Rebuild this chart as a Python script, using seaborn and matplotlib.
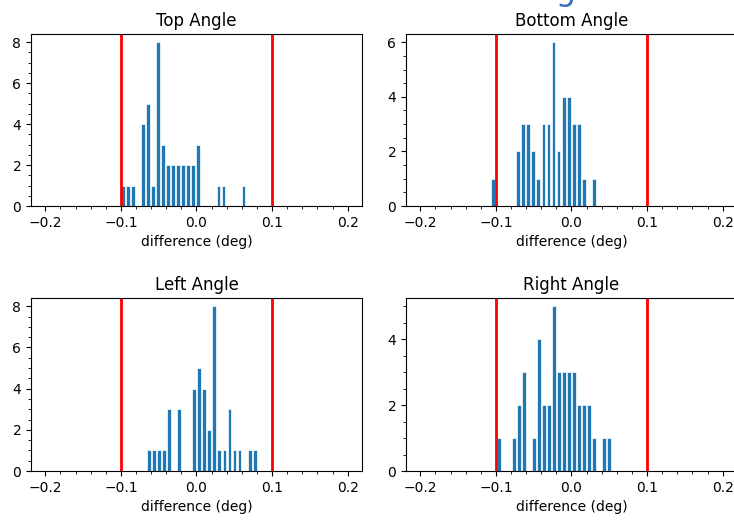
import numpy as np
import pandas as pd
import matplotlib
matplotlib.use("Agg")
import matplotlib.pyplot as plt
from matplotlib.ticker import MultipleLocator
import seaborn as sns

# Histogram counts (42 samples per corner), with the
# data range each histogram was binned over
top_counts = [1, 1, 1, 0, 4, 5, 1, 8, 3, 2, 2, 2, 2, 2, 2, 3, 0, 0, 0, 1, 1, 0, 0, 0, 1]
top_range = (-0.1002, 0.0654)

bottom_counts = [1, 0, 0, 0, 0, 2, 3, 3, 2, 1, 3, 3, 6, 2, 4, 4, 3, 3, 1, 0, 1]
bottom_range = (-0.1074, 0.0331)

left_counts = [1, 1, 1, 1, 3, 0, 3, 0, 0, 4, 5, 4, 2, 8, 1, 1, 3, 1, 1, 0, 1, 1]
left_range = (-0.0664, 0.0803)

right_counts = [1, 0, 0, 1, 2, 3, 0, 1, 4, 2, 2, 5, 3, 3, 3, 3, 2, 2, 2, 1, 0, 1, 1]
right_range = (-0.0993, 0.0532)

titles = ["Top Angle", "Bottom Angle", "Left Angle", "Right Angle"]
tolerance = 0.1
x_limits = (-0.219, 0.219)

panels = [
    (titles[0], top_counts, top_range),
    (titles[1], bottom_counts, bottom_range),
    (titles[2], left_counts, left_range),
    (titles[3], right_counts, right_range),
]

fig = plt.figure(figsize=(7.34, 5.2), dpi=100)

# axes boxes in figure fractions (left, bottom, width, height)
positions = [
    (0.0422, 0.6038, 0.451, 0.3308),
    (0.5531, 0.6038, 0.451, 0.3308),
    (0.0422, 0.0942, 0.451, 0.3327),
    (0.5531, 0.0942, 0.451, 0.3327),
]

for (title, counts, rng), pos in zip(panels, positions):
    ax = fig.add_axes(pos)
    edges = np.linspace(rng[0], rng[1], len(counts) + 1)
    df = pd.DataFrame({"diff": (edges[:-1] + edges[1:]) / 2, "n": counts})
    # bins as a plain list: seaborn compares bins == "auto" when weights are set
    sns.histplot(data=df, x="diff", weights="n", bins=edges.tolist(), ax=ax,
                 color="#1f77b4", alpha=1, edgecolor="white",
                 linewidth=0.5, shrink=0.75)
    ax.axvline(-tolerance, color="red", linewidth=2)
    ax.axvline(tolerance, color="red", linewidth=2)
    ax.set_xlim(*x_limits)
    ax.set_xticks([-0.2, -0.1, 0.0, 0.1, 0.2])
    ax.yaxis.set_major_locator(MultipleLocator(2))
    ax.minorticks_on()
    ax.set_title(title, fontsize=12)
    ax.set_xlabel("difference (deg)", fontsize=10)
    ax.set_ylabel("")
    ax.tick_params(labelsize=10)

# figure title, almost entirely cut off at the top edge in the original
fig.text(0.535, 1.0, "Differences in Corner Angles", ha="center", va="baseline",
         fontsize=23, color="#3a6db5")

plt.savefig("out.png", dpi=100)
plt.close()
